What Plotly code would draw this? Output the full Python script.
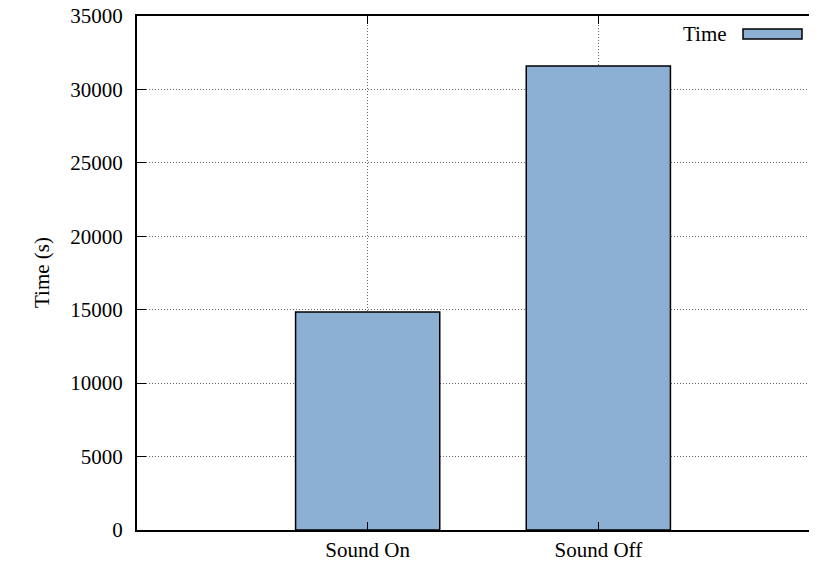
import plotly.graph_objects as go

categories = ["Sound On", "Sound Off"]
times = [14850, 31600]
series_name = "Time"
y_ticks = [0, 5000, 10000, 15000, 20000, 25000, 30000, 35000]

font = dict(family="Liberation Serif, Times New Roman, serif", size=21, color="black")

# plot area in page pixels (page has 8px body margin)
PL, PR, PT, PB = 137, 829, 16, 530
PW, PH = PR - PL, PB - PT

fig = go.Figure()
fig.add_trace(go.Bar(
    x=categories, y=times, name=series_name, width=0.625,
    marker=dict(color="#8cb0d4", line=dict(color="black", width=1.5)),
    showlegend=False,
))

fig.update_layout(
    width=821, height=558,
    margin=dict(l=129, r=0, t=8, b=36, autoexpand=False),
    paper_bgcolor="white", plot_bgcolor="white",
    font=font,
    xaxis=dict(
        type="category", range=[-1, 2],
        showline=True, linecolor="black", linewidth=2, mirror="ticks",
        ticks="inside", ticklen=8, tickcolor="black",
        showgrid=True, gridcolor="#666", griddash="1px,2px", gridwidth=1,
        tickfont=font, zeroline=False,
    ),
    yaxis=dict(
        range=[0, 35000], tickvals=y_ticks, ticktext=[str(v) for v in y_ticks],
        showline=True, linecolor="black", linewidth=2,
        ticks="inside", ticklen=9, tickcolor="black",
        showgrid=True, gridcolor="#666", griddash="1px,2px", gridwidth=1,
        tickfont=font, zeroline=False, ticklabelstandoff=8,
        ticklabeloverflow="allow",
    ),
)

# y axis title
fig.add_annotation(
    xref="paper", yref="paper", x=(42 - PL) / PW, y=(PB - 273) / PH,
    text="Time (s)", textangle=-90, showarrow=False,
    xanchor="center", yanchor="middle", font=font,
)

# manual gnuplot-style key: text then sample box
fig.add_annotation(
    xref="paper", yref="paper", x=(729 - PL) / PW, y=(PB - 34) / PH,
    text=series_name, showarrow=False, xanchor="right", yanchor="middle", font=font,
)
fig.add_shape(
    type="rect", xref="paper", yref="paper",
    x0=(743 - PL) / PW, x1=(802 - PL) / PW,
    y0=(PB - 39) / PH, y1=(PB - 29) / PH,
    fillcolor="#8cb0d4", line=dict(color="black", width=1.5),
)

fig.write_html("out.html")
